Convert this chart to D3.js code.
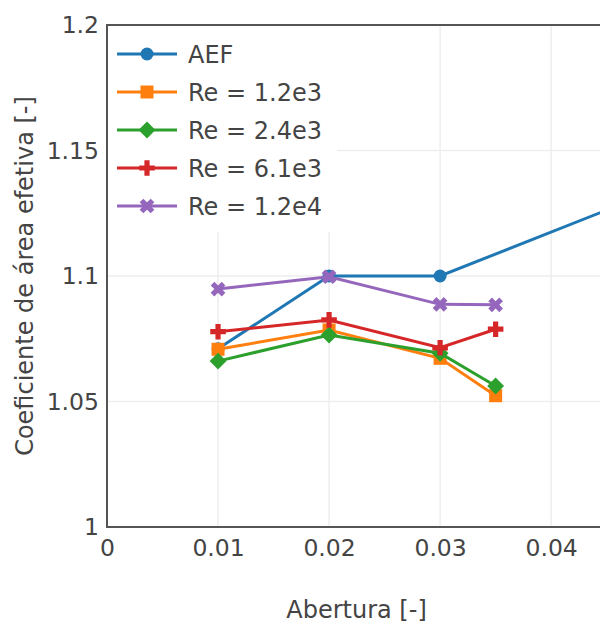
<!DOCTYPE html>
<html>
<head>
<meta charset="UTF-8">
<title>Coeficiente de área efetiva</title>
<script src="https://cdn.jsdelivr.net/npm/d3@7/dist/d3.min.js"></script>
<style>
  body { margin: 0; background: #fff; }
  svg text { font-family: 'DejaVu Sans', Verdana, sans-serif; fill: #444; }
  .tick text { font-size: 23.5px; }
  .grid line { stroke: #eee; stroke-width: 1.5; }
  .legenda text { font-size: 24px; }
  .titulo { font-size: 24px; }
</style>
</head>
<body>
<div id="grafico"></div>
<script>
// dados
var aberturaAEF = [0.01, 0.02, 0.03, 0.05];
var valoresAEF = [1.071, 1.1, 1.1, 1.135];
var aberturaRe = [0.01, 0.02, 0.03, 0.035];
var re12e3 = [1.0708, 1.0785, 1.0672, 1.0523];
var re24e3 = [1.0661, 1.0765, 1.0692, 1.0562];
var re61e3 = [1.0778, 1.0825, 1.0714, 1.0788];
var re12e4 = [1.0948, 1.0997, 1.0887, 1.0885];
var nomes = ['AEF', 'Re = 1.2e3', 'Re = 2.4e3', 'Re = 6.1e3', 'Re = 1.2e4'];
var ticksX = [0, 0.01, 0.02, 0.03, 0.04];
var ticksY = [1, 1.05, 1.1, 1.15, 1.2];

var cores = ['#1f77b4', '#ff7f0e', '#2ca02c', '#d62728', '#9467bd'];
var simbolos = ['circle', 'square', 'diamond', 'cross', 'x'];

var w = 600, h = 624;
var margem = {left: 107, top: 25, right: 0, bottom: 97};

var series = [
  {x: aberturaAEF, y: valoresAEF},
  {x: aberturaRe, y: re12e3},
  {x: aberturaRe, y: re24e3},
  {x: aberturaRe, y: re61e3},
  {x: aberturaRe, y: re12e4}
].map(function(s, i){
  return {nome: nomes[i], cor: cores[i], simbolo: simbolos[i],
    pontos: s.x.map(function(v, j){ return [v, s.y[j]]; })};
});

// simbolos no estilo plotly
function caminho(tipo, r){
  if (tipo == 'circle') return 'M' + r + ',0A' + r + ',' + r + ' 0 1,1 0,-' + r + 'A' + r + ',' + r + ' 0 0,1 ' + r + ',0Z';
  if (tipo == 'square') return 'M' + r + ',' + r + 'H-' + r + 'V-' + r + 'H' + r + 'Z';
  if (tipo == 'diamond') { var rd = r * 1.3; return 'M' + rd + ',0L0,' + rd + 'L-' + rd + ',0L0,-' + rd + 'Z'; }
  if (tipo == 'cross') {
    var rc = r * 0.4, rc2 = r * 1.2;
    return 'M' + rc2 + ',' + rc + 'H' + rc + 'V' + rc2 + 'H-' + rc + 'V' + rc + 'H-' + rc2 + 'V-' + rc + 'H-' + rc + 'V-' + rc2 + 'H' + rc + 'V-' + rc + 'H' + rc2 + 'Z';
  }
  var rx = r * 0.8 / Math.sqrt(2);
  var ne = 'l' + rx + ',' + rx, se = 'l' + rx + ',-' + rx, sw = 'l-' + rx + ',-' + rx, nw = 'l-' + rx + ',' + rx;
  return 'M0,' + rx + ne + se + sw + se + sw + nw + sw + nw + ne + nw + ne + 'Z';
}

var svg = d3.select('#grafico').append('svg')
  .attr('width', w).attr('height', h);

var xScale = d3.scaleLinear().domain([0, 0.0444]).range([margem.left, w - margem.right]);
var yScale = d3.scaleLinear().domain([1, 1.2]).range([h - margem.bottom, margem.top]);

// grade
svg.append('g').attr('class', 'grid')
  .selectAll('line.gx').data(ticksX.slice(1)).enter().append('line')
  .attr('x1', function(d){ return xScale(d); }).attr('x2', function(d){ return xScale(d); })
  .attr('y1', yScale(1)).attr('y2', yScale(1.2));
svg.select('.grid')
  .selectAll('line.gy').data(ticksY.slice(1)).enter().append('line')
  .attr('y1', function(d){ return yScale(d); }).attr('y2', function(d){ return yScale(d); })
  .attr('x1', xScale(0)).attr('x2', w);

svg.append('clipPath').attr('id', 'area')
  .append('rect').attr('x', margem.left).attr('y', margem.top)
  .attr('width', w - margem.left).attr('height', h - margem.top - margem.bottom);

var linha = d3.line()
  .x(function(d){ return xScale(d[0]); })
  .y(function(d){ return yScale(d[1]); });

var plot = svg.append('g').attr('clip-path', 'url(#area)');
series.forEach(function(s){
  var g = plot.append('g');
  g.append('path').datum(s.pontos)
    .attr('d', linha).attr('fill', 'none')
    .attr('stroke', s.cor).attr('stroke-width', 3);
  g.selectAll('path.m').data(s.pontos).enter().append('path')
    .attr('class', 'm')
    .attr('d', caminho(s.simbolo, 6.5))
    .attr('transform', function(d){ return 'translate(' + xScale(d[0]) + ',' + yScale(d[1]) + ')'; })
    .attr('fill', s.cor);
});

// eixos
var eixoX = d3.axisBottom(xScale).tickValues(ticksX).tickSize(0).tickPadding(12)
  .tickFormat(function(d){ return d3.format('')(+d.toFixed(2)); });
svg.append('g').attr('transform', 'translate(0,' + yScale(1) + ')').call(eixoX)
  .call(function(g){ g.select('.domain').remove(); });

var eixoY = d3.axisLeft(yScale).tickValues(ticksY).tickSize(0).tickPadding(8)
  .tickFormat(function(d){ return d3.format('')(+d.toFixed(2)); });
svg.append('g').attr('transform', 'translate(' + xScale(0) + ',0)').call(eixoY)
  .call(function(g){ g.select('.domain').remove(); });

svg.selectAll('.tick text').attr('fill', '#444');

// moldura (esquerda, baixo, topo)
svg.append('path')
  .attr('d', 'M' + w + ',' + yScale(1.2) + 'H' + xScale(0) + 'V' + yScale(1) + 'H' + w)
  .attr('fill', 'none').attr('stroke', '#555').attr('stroke-width', 2);

// legenda
var leg = svg.append('g').attr('class', 'legenda');
leg.append('rect').attr('x', xScale(0) + 1).attr('y', yScale(1.2) + 1)
  .attr('width', 229).attr('height', 206).attr('fill', '#fff');
var item = leg.selectAll('g.item').data(series).enter().append('g')
  .attr('class', 'item')
  .attr('transform', function(d, i){ return 'translate(0,' + (54 + i * 38) + ')'; });
item.append('line').attr('x1', 117).attr('x2', 177)
  .attr('stroke', function(d){ return d.cor; }).attr('stroke-width', 3);
item.append('path').attr('d', function(d){ return caminho(d.simbolo, 6.5); })
  .attr('transform', 'translate(147,0)')
  .attr('fill', function(d){ return d.cor; });
item.append('text').attr('x', 188).attr('y', 8.5).text(function(d){ return d.nome; });

// titulos
svg.append('text').attr('class', 'titulo')
  .attr('x', (xScale(0) + w) / 2 + 3).attr('y', 618)
  .attr('text-anchor', 'middle').text('Abertura [-]');
svg.append('text').attr('class', 'titulo')
  .attr('transform', 'translate(33,' + yScale(1.1) + ') rotate(-90)')
  .attr('text-anchor', 'middle').text('Coeficiente de área efetiva [-]');
</script>
</body>
</html>
